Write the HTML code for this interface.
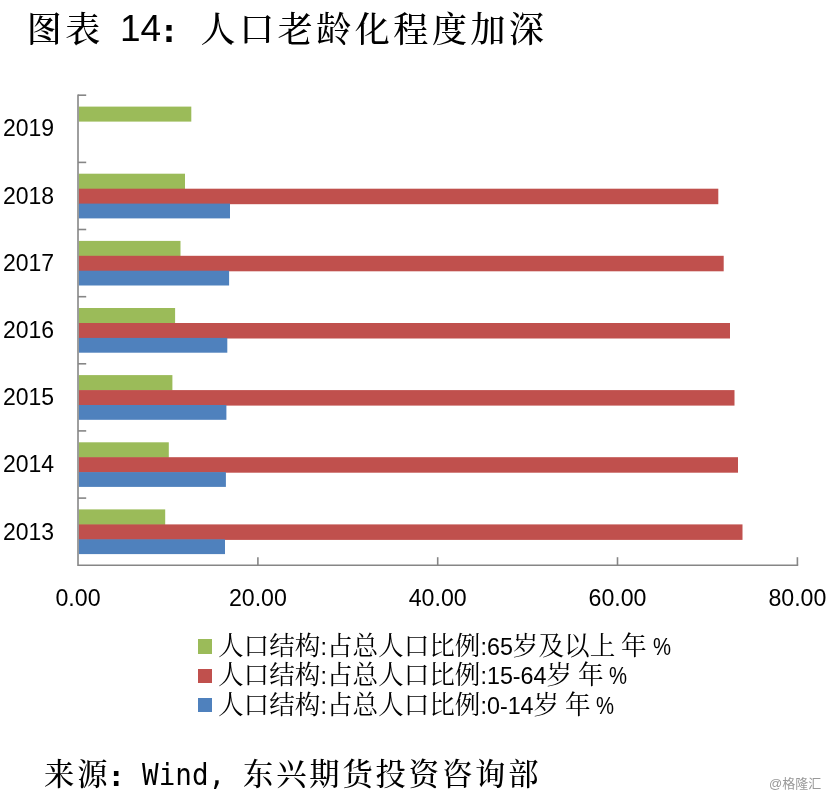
<!DOCTYPE html>
<html lang="zh-CN"><head><meta charset="utf-8"><title>图表 14</title>
<style>
html,body{margin:0;padding:0;background:#fff;}
body{width:830px;height:798px;position:relative;overflow:hidden;font-family:"Liberation Sans","Noto Sans CJK SC",sans-serif;color:#000;}
.kai{font-family:"Liberation Sans","Noto Serif CJK SC",serif;font-weight:500;}
#title{position:absolute;left:0;top:0;width:830px;height:60px;font-size:35px;white-space:nowrap;}
#title span,#src span{position:absolute;top:0;white-space:nowrap;}
#title .t1,#title .t4{letter-spacing:3.55px;line-height:56px;top:2px;}
#title .t1{left:26.7px;}
#title .t4{left:200.6px;}
#title .t2{left:120px;top:1px;font-weight:normal;font-size:37px;line-height:56px;font-family:"Liberation Sans",sans-serif;}
#title .t3{left:163px;top:4px;font-size:30px;line-height:56px;font-weight:bold;font-family:"DejaVu Sans",sans-serif;}
#src{position:absolute;left:0;top:748px;width:830px;height:50px;font-size:30.3px;white-space:nowrap;}
#src .s1,#src .s4{letter-spacing:2.85px;line-height:48px;top:2.5px;}
#src .s1{left:44.1px;}
#src .s4{left:243px;}
#src .s2{left:142.1px;font-size:27.6px;line-height:48px;font-weight:normal;font-family:"DejaVu Sans Mono","Liberation Mono",monospace;top:4px;transform:scale(1,1.08);transform-origin:0 70%;}
#src .s3{left:111px;top:4.5px;font-size:26px;line-height:48px;font-weight:bold;font-family:"DejaVu Sans",sans-serif;}
svg{position:absolute;left:0;top:0;}
.yl{position:absolute;left:3px;width:60px;height:28px;line-height:28px;font-size:23px;white-space:nowrap;}
.xl{position:absolute;top:583.8px;width:100px;height:28px;line-height:28px;font-size:23.2px;text-align:center;white-space:nowrap;}
.lg{position:absolute;left:218px;height:30px;line-height:30px;font-size:25.6px;white-space:nowrap;font-family:"Liberation Sans","Noto Serif CJK SC",serif;}
.lg i{font-style:normal;font-size:23.3px;}
.lg b{font-weight:normal;font-size:21px;}
.lg i.pc{display:inline-block;transform:scaleX(0.87);transform-origin:0 50%;}
.sq{position:absolute;left:198px;width:14.3px;height:14.2px;}
#wm{position:absolute;left:769px;top:774px;font-size:13px;line-height:20px;color:#999;white-space:nowrap;font-family:"Liberation Sans","Noto Sans CJK SC",sans-serif;}
</style></head><body>
<div id="title" class="kai"><span class="t1">图表</span><span class="t2">14</span><span class="t3">:</span><span class="t4">人口老龄化程度加深</span></div>
<svg width="830" height="798" viewBox="0 0 830 798" >
<rect x="78.8" y="106.6" width="112.5" height="15.0" fill="#9bbb59"/>
<rect x="78.8" y="173.7" width="106.2" height="15.6" fill="#9bbb59"/>
<rect x="78.8" y="188.7" width="639.5" height="15.5" fill="#c0504d"/>
<rect x="78.8" y="203.6" width="151.2" height="14.8" fill="#4f81bd"/>
<rect x="78.8" y="240.9" width="101.7" height="15.6" fill="#9bbb59"/>
<rect x="78.8" y="255.8" width="644.9" height="15.5" fill="#c0504d"/>
<rect x="78.8" y="270.7" width="150.3" height="14.8" fill="#4f81bd"/>
<rect x="78.8" y="308.0" width="96.3" height="15.5" fill="#9bbb59"/>
<rect x="78.8" y="323.0" width="651.2" height="15.5" fill="#c0504d"/>
<rect x="78.8" y="337.9" width="148.5" height="14.8" fill="#4f81bd"/>
<rect x="78.8" y="375.1" width="93.6" height="15.5" fill="#9bbb59"/>
<rect x="78.8" y="390.1" width="655.7" height="15.5" fill="#c0504d"/>
<rect x="78.8" y="405.0" width="147.6" height="14.8" fill="#4f81bd"/>
<rect x="78.8" y="442.3" width="90.0" height="15.5" fill="#9bbb59"/>
<rect x="78.8" y="457.2" width="659.2" height="15.5" fill="#c0504d"/>
<rect x="78.8" y="472.1" width="147.1" height="14.8" fill="#4f81bd"/>
<rect x="78.8" y="509.4" width="86.4" height="15.5" fill="#9bbb59"/>
<rect x="78.8" y="524.4" width="663.7" height="15.5" fill="#c0504d"/>
<rect x="78.8" y="539.3" width="146.2" height="14.8" fill="#4f81bd"/>
<g stroke="#868686" stroke-width="1.6" fill="none" shape-rendering="auto">
<line x1="78.0" y1="94.5" x2="78.0" y2="566.0"/>
<line x1="78.0" y1="565.2" x2="798.2" y2="565.2"/>
<line x1="78.0" y1="95.2" x2="86.2" y2="95.2"/>
<line x1="78.0" y1="162.4" x2="86.2" y2="162.4"/>
<line x1="78.0" y1="229.5" x2="86.2" y2="229.5"/>
<line x1="78.0" y1="296.7" x2="86.2" y2="296.7"/>
<line x1="78.0" y1="363.8" x2="86.2" y2="363.8"/>
<line x1="78.0" y1="430.9" x2="86.2" y2="430.9"/>
<line x1="78.0" y1="498.1" x2="86.2" y2="498.1"/>
<line x1="257.9" y1="565.2" x2="257.9" y2="557.2"/>
<line x1="437.7" y1="565.2" x2="437.7" y2="557.2"/>
<line x1="617.5" y1="565.2" x2="617.5" y2="557.2"/>
<line x1="797.4" y1="565.2" x2="797.4" y2="557.2"/>
</g>
</svg>
<div class="yl" style="top:114px">2019</div>
<div class="yl" style="top:182px">2018</div>
<div class="yl" style="top:249px">2017</div>
<div class="yl" style="top:316px">2016</div>
<div class="yl" style="top:383px">2015</div>
<div class="yl" style="top:450px">2014</div>
<div class="yl" style="top:518px">2013</div>
<div class="xl" style="left:28.0px">0.00</div>
<div class="xl" style="left:207.9px">20.00</div>
<div class="xl" style="left:387.7px">40.00</div>
<div class="xl" style="left:567.5px">60.00</div>
<div class="xl" style="left:747.4px">80.00</div>
<div class="sq" style="top:639.4px;background:#9bbb59"></div>
<div class="sq" style="top:668.7px;background:#c0504d"></div>
<div class="sq" style="top:697.9px;background:#4f81bd"></div>
<div class="lg" style="top:631px">人口结构<i>:</i>占总人口比例<i>:65</i>岁及以上<b> </b>年<b> </b><i class="pc">%</i></div>
<div class="lg" style="top:660.3px">人口结构<i>:</i>占总人口比例<i>:15-64</i>岁<b> </b>年<b> </b><i class="pc">%</i></div>
<div class="lg" style="top:689.6px">人口结构<i>:</i>占总人口比例<i>:0-14</i>岁<b> </b>年<b> </b><i class="pc">%</i></div>
<div id="src" class="kai"><span class="s1">来源</span><span class="s3">:</span><span class="s2">Wind,</span><span class="s4">东兴期货投资咨询部</span></div>
<div id="wm">@格隆汇</div>
</body></html>
